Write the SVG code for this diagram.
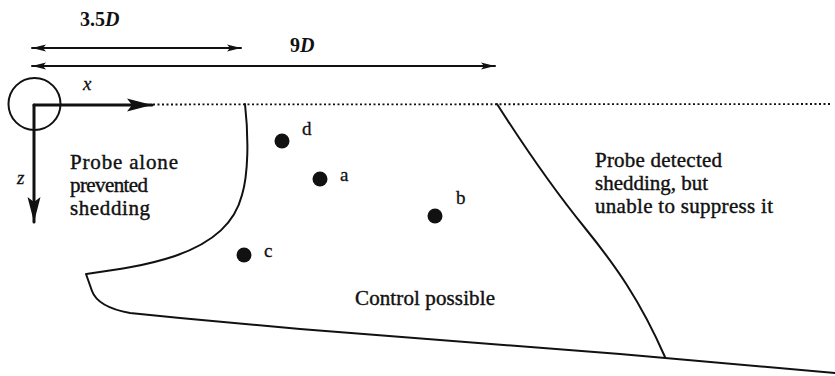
<svg xmlns="http://www.w3.org/2000/svg" width="835" height="376" viewBox="0 0 835 376">
<style>
text{font-family:'Liberation Serif','DejaVu Serif','Times New Roman',serif;fill:#111;}
.lbl{font-size:21px;stroke:#111;stroke-width:0.4px;}
.pt{font-size:19px;stroke:#111;stroke-width:0.3px;}
.it{font-style:italic;}
.ln{fill:none;stroke:#111;stroke-linecap:round;stroke-linejoin:round;}
.dot{fill:#111;}
</style>
<defs>
<marker id="dimHead" markerUnits="userSpaceOnUse" markerWidth="15" markerHeight="8" refX="14" refY="4" orient="auto-start-reverse">
<path d="M0,0.5 L14,4 L0,7.5 L3,4 z" fill="#111"/>
</marker>
<marker id="axHead" markerUnits="userSpaceOnUse" markerWidth="26" markerHeight="14" refX="25" refY="7" orient="auto">
<path d="M0,0.5 L25,7 L0,13.5 L5,7 z" fill="#111"/>
</marker>
</defs>

<g id="dimensions">
<line class="ln" x1="32" y1="48" x2="241" y2="48" stroke-width="2" marker-start="url(#dimHead)" marker-end="url(#dimHead)"/>
<text class="it" x="80" y="26" font-family="Liberation Serif, serif" font-size="20" font-weight="bold"><tspan font-style="normal">3.5</tspan>D</text>
<line class="ln" x1="32" y1="66" x2="495" y2="66" stroke-width="2" marker-start="url(#dimHead)" marker-end="url(#dimHead)"/>
<text class="it" x="290" y="52" font-family="Liberation Serif, serif" font-size="20" font-weight="bold"><tspan font-style="normal">9</tspan>D</text>
</g>

<g id="cylinder">
<circle cx="34.5" cy="104" r="26" fill="none" stroke="#111" stroke-width="2"/>
</g>

<g id="axes">
<line class="ln" x1="34" y1="105" x2="152" y2="105" stroke-width="3" marker-end="url(#axHead)"/>
<line class="ln" x1="34" y1="105" x2="34" y2="222" stroke-width="3" marker-end="url(#axHead)"/>
<text class="pt it" x="83" y="90" font-family="Liberation Serif, serif">x</text>
<text class="pt it" x="17" y="184" font-family="Liberation Serif, serif">z</text>
<line x1="153" y1="104.5" x2="830" y2="104" stroke="#111" stroke-width="1.8" stroke-dasharray="2 2.5"/>
</g>

<g id="connectors">
<path id="left-boundary" class="ln" stroke-width="2" d="M245,104 C249,140 248,175 242,195 C235,222 215,242 175,256 C145,266 115,270 86,274 L92,291 C96,302 108,309 130,313 L180,318 L300,329 L620,354 L835,373"/>
<path id="right-boundary" class="ln" stroke-width="2" d="M497,104 C520,140 550,185 585,228 C615,265 640,300 665,357"/>
</g>

<g id="region-probe-alone" font-family="Liberation Serif, serif">
<text class="lbl" x="70" y="169" textLength="108" lengthAdjust="spacing">Probe alone</text>
<text class="lbl" x="70" y="192" textLength="78" lengthAdjust="spacing">prevented</text>
<text class="lbl" x="70" y="215" textLength="80" lengthAdjust="spacing">shedding</text>
</g>

<g id="region-detected" font-family="Liberation Serif, serif">
<text class="lbl" x="595" y="167" textLength="127" lengthAdjust="spacing">Probe detected</text>
<text class="lbl" x="595" y="190" textLength="113" lengthAdjust="spacing">shedding, but</text>
<text class="lbl" x="595" y="213" textLength="178" lengthAdjust="spacing">unable to suppress it</text>
</g>

<g id="region-control" font-family="Liberation Serif, serif">
<text class="lbl" x="355" y="305" textLength="140" lengthAdjust="spacing">Control possible</text>
</g>

<g id="point-d">
<circle class="dot" cx="282" cy="141" r="7.5"/>
<text class="pt" x="302" y="135" font-family="Liberation Serif, serif">d</text>
</g>
<g id="point-a">
<circle class="dot" cx="320" cy="179" r="7.5"/>
<text class="pt" x="340" y="181" font-family="Liberation Serif, serif">a</text>
</g>
<g id="point-b">
<circle class="dot" cx="435" cy="216" r="7.5"/>
<text class="pt" x="456" y="204" font-family="Liberation Serif, serif">b</text>
</g>
<g id="point-c">
<circle class="dot" cx="244" cy="255" r="7.5"/>
<text class="pt" x="264" y="257" font-family="Liberation Serif, serif">c</text>
</g>
</svg>
